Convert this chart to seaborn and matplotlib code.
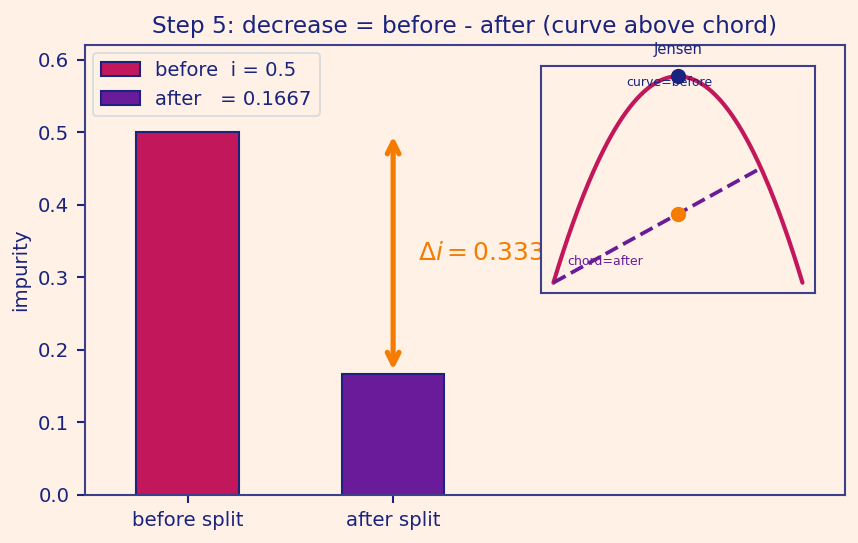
import numpy as np
import pandas as pd
import matplotlib
matplotlib.use("Agg")
import matplotlib.pyplot as plt
import seaborn as sns

# data
categories = ["before split", "after split"]
impurity = [0.5, 0.1667]
legend_labels = ["before  i = 0.5", "after   = 0.1667"]
delta_label = r"$\Delta i = 0.3333$"
# inset (Jensen) data
p_curve_range = [0.05, 0.95]
chord_p = [0.05, 0.8]
mid_p = 0.5

BG = "#FFF1E6"
NAVY = "#1A237E"
SPINE = "#3C3F8C"
CRIMSON = "#C2185B"
PURPLE = "#6A1B9A"
ORANGE = "#F57C00"

sns.set_theme(style="white")
plt.rcParams.update({
    "figure.facecolor": BG, "axes.facecolor": BG,
    "text.color": NAVY, "axes.labelcolor": NAVY,
    "xtick.color": NAVY, "ytick.color": NAVY, "axes.edgecolor": SPINE,
})
plt.rcParams["font.family"] = ["DejaVu Sans"]

fig = plt.figure(figsize=(5.72, 3.62), dpi=150)
ax = fig.add_axes([0.099, 0.0884, 0.886, 0.8286])

df = pd.DataFrame({"cat": categories, "val": impurity})
sns.barplot(data=df, x="cat", y="val", hue="cat", palette=[CRIMSON, PURPLE],
            width=0.5, edgecolor=NAVY, linewidth=1.0, legend=False, ax=ax, saturation=1)
ax.set_xlim(-0.5, 3.2)
ax.set_ylim(0, 0.62)
ax.set_xlabel("")
ax.set_ylabel("impurity", fontsize=9.5)
ax.set_title("Step 5: decrease = before - after (curve above chord)", fontsize=11.2, color=NAVY)
ax.tick_params(axis="both", labelsize=9.5, length=4, width=1, bottom=True, left=True,
               colors=NAVY)
for s in ax.spines.values():
    s.set_color(SPINE)
    s.set_linewidth(1.0)
ax.legend(ax.patches[:2], legend_labels, loc="upper left", fontsize=9.4,
          facecolor=BG, edgecolor="#DDDDDD", framealpha=1, labelcolor=NAVY,
          borderaxespad=0.4)

ax.annotate("", xy=(1, impurity[1]), xytext=(1, impurity[0]),
            arrowprops=dict(arrowstyle="<->", color=ORANGE, lw=2.5, mutation_scale=14))
ax.text(1.12, (impurity[0] + impurity[1]) / 2, delta_label, color=ORANGE,
        fontsize=12, va="center", ha="left")

# inset
ins = fig.add_axes([0.6305, 0.4604, 0.3193, 0.418])
ins.set_facecolor(BG)
p = np.linspace(p_curve_range[0], p_curve_range[1], 200)
g = 2 * p * (1 - p)
sns.lineplot(x=p, y=g, color=CRIMSON, lw=2, ax=ins)
cp = np.array(chord_p)
sns.lineplot(x=cp, y=2 * cp * (1 - cp), color=PURPLE, lw=1.8, ls="--", ax=ins)
w = (cp[1] - mid_p) / (cp[1] - cp[0])
chord_val = w * 2 * cp[0] * (1 - cp[0]) + (1 - w) * 2 * cp[1] * (1 - cp[1])
ins.scatter([mid_p], [2 * mid_p * (1 - mid_p)], color=NAVY, s=40, zorder=5)
ins.scatter([mid_p], [chord_val], color=ORANGE, s=40, zorder=5)
ins.text(mid_p - 0.03, 0.5, "curve=before", fontsize=6, color=NAVY, ha="center", va="top")
ins.text(0.10, 0.136, "chord=after", fontsize=6, color=PURPLE, ha="left", va="center")
ins.set_title("Jensen", fontsize=7, color=NAVY, pad=6)
ins.set_xticks([])
ins.set_yticks([])
for s in ins.spines.values():
    s.set_color(SPINE)
    s.set_linewidth(1.0)
ins.set_zorder(3)

fig.savefig("out.png", dpi=150, facecolor=BG)
